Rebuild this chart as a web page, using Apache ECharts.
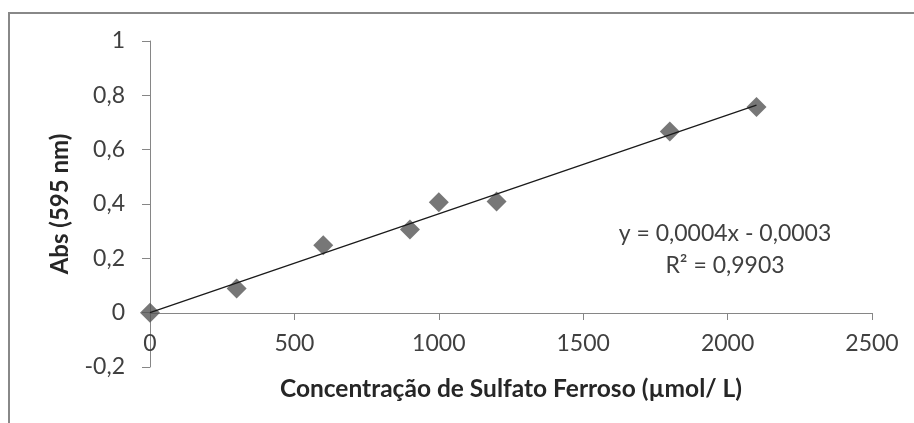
<!DOCTYPE html>
<html>
<head>
<meta charset="utf-8">
<script src="https://cdn.jsdelivr.net/npm/echarts@6/dist/echarts.min.js"></script>
<style>
html,body{margin:0;padding:0;background:#fff;}
#chart{width:914px;height:423px;}
</style>
</head>
<body>
<div id="chart"></div>
<script>
// Data
const concentrations = [0, 300, 600, 900, 1000, 1200, 1800, 2100];
const absorbances = [0, 0.089, 0.248, 0.306, 0.406, 0.409, 0.667, 0.757];
// Linear trendline end points (as drawn)
const trendX = [0, 2100];
const trendY = [0.0, 0.764];
const xTitle = 'Concentração de Sulfato Ferroso (µmol/ L)';
const yTitle = 'Abs (595 nm)';
const equationLines = ['y = 0,0004x - 0,0003', 'R² = 0,9903'];

const FONT = 'Lato';
const chart = echarts.init(document.getElementById('chart'));
const fmtY = v => {
  const r = Math.round(v * 10) / 10;
  return String(r).replace('.', ',');
};
const fmtX = v => String(Math.round(v));
chart.setOption({
  animation: false,
  backgroundColor: '#ffffff',
  grid: {left: 150, top: 41, right: 42, bottom: 56, containLabel: false},
  xAxis: {
    type: 'value', min: 0, max: 2500, interval: 500,
    offset: -54,
    axisLine: {show: true, onZero: false, lineStyle: {color: '#868686', width: 1}},
    axisTick: {show: true, length: 7, lineStyle: {color: '#868686'}},
    splitLine: {show: false},
    axisLabel: {color: '#404040', fontFamily: FONT, fontSize: 23, margin: 19, formatter: fmtX}
  },
  yAxis: {
    type: 'value', min: -0.2, max: 1, interval: 0.2,
    axisLine: {show: true, onZero: false, lineStyle: {color: '#868686', width: 1}},
    axisTick: {show: true, length: 8, lineStyle: {color: '#868686'}},
    splitLine: {show: false},
    axisLabel: {color: '#404040', fontFamily: FONT, fontSize: 23, margin: 25, formatter: fmtY}
  },
  series: [
    {
      type: 'line',
      data: trendX.map((x, i) => [x, trendY[i]]),
      symbol: 'none',
      lineStyle: {color: '#1a1a1a', width: 1.3},
      z: 3
    },
    {
      type: 'scatter',
      data: concentrations.map((x, i) => [x, absorbances[i]]),
      symbol: 'diamond',
      symbolSize: 20,
      itemStyle: {color: '#555555'},
      z: 2
    }
  ],
  graphic: [
    {type: 'rect', shape: {x: 9, y: 13, width: 1200, height: 1200},
     style: {fill: 'none', stroke: '#888888', lineWidth: 2}, silent: true},
    {type: 'text', x: 511, y: 389,
     style: {text: xTitle, fill: '#262626', font: 'bold 24.5px ' + FONT, textAlign: 'center', textVerticalAlign: 'middle'}},
    {type: 'text', x: 60, y: 204, rotation: Math.PI / 2,
     style: {text: yTitle, fill: '#262626', font: 'bold 24px ' + FONT, textAlign: 'center', textVerticalAlign: 'middle'}},
    {type: 'text', x: 725, y: 234,
     style: {text: equationLines[0], fill: '#404040', font: '23px ' + FONT, textAlign: 'center', textVerticalAlign: 'middle'}},
    {type: 'text', x: 725, y: 266,
     style: {text: equationLines[1], fill: '#404040', font: '23px ' + FONT, textAlign: 'center', textVerticalAlign: 'middle'}}
  ]
});
</script>
</body>
</html>
